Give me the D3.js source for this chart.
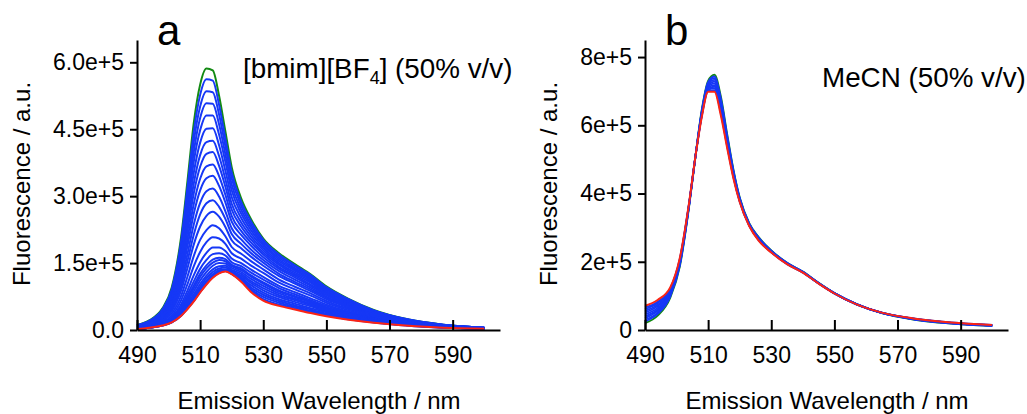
<!DOCTYPE html>
<html>
<head>
<meta charset="utf-8">
<script src="https://cdn.jsdelivr.net/npm/d3@7"></script>
<style>
  body { margin: 0; background: #fff; }
  svg { display: block; font-family: "Liberation Sans", Arial, Helvetica, sans-serif; }
</style>
</head>
<body>
<script>
// emission wavelengths (nm) shared by every spectrum
const wavelengths = [490, 494, 498, 501, 504, 506, 508, 510, 512, 514, 516, 518, 520, 523, 526, 530, 535, 540, 545, 550, 557, 565, 575, 587, 600];

// panel a, fluorescence in units of 1e5
const bmimGreen = [0.11, 0.22, 0.48, 0.95, 2.10, 3.35, 4.65, 5.50, 5.86, 5.82, 5.25, 4.45, 3.65, 2.95, 2.50, 2.05, 1.72, 1.48, 1.25, 0.98, 0.70, 0.45, 0.25, 0.12, 0.05];
const bmimRed = [0.02, 0.05, 0.10, 0.17, 0.32, 0.47, 0.64, 0.84, 1.02, 1.17, 1.27, 1.31, 1.25, 1.08, 0.86, 0.66, 0.54, 0.46, 0.38, 0.31, 0.23, 0.16, 0.10, 0.05, 0.03];
const bmimBlue = [
    [0.11, 0.21, 0.46, 0.91, 2.01, 3.21, 4.45, 5.27, 5.62, 5.59, 5.05, 4.29, 3.53, 2.87, 2.45, 2.02, 1.69, 1.45, 1.23, 0.96, 0.69, 0.44, 0.25, 0.12, 0.05],
    [0.10, 0.20, 0.44, 0.87, 1.91, 3.05, 4.23, 5.01, 5.35, 5.33, 4.83, 4.12, 3.40, 2.79, 2.38, 1.98, 1.66, 1.43, 1.20, 0.94, 0.67, 0.43, 0.24, 0.12, 0.05],
    [0.10, 0.19, 0.42, 0.82, 1.81, 2.89, 4.00, 4.75, 5.08, 5.07, 4.61, 3.94, 3.26, 2.70, 2.32, 1.93, 1.62, 1.39, 1.18, 0.92, 0.66, 0.43, 0.24, 0.11, 0.05],
    [0.09, 0.18, 0.40, 0.78, 1.71, 2.72, 3.78, 4.48, 4.81, 4.81, 4.38, 3.77, 3.13, 2.61, 2.25, 1.89, 1.58, 1.36, 1.15, 0.90, 0.65, 0.42, 0.23, 0.11, 0.05],
    [0.09, 0.17, 0.37, 0.73, 1.60, 2.55, 3.53, 4.20, 4.51, 4.52, 4.14, 3.57, 2.98, 2.51, 2.18, 1.84, 1.54, 1.33, 1.12, 0.88, 0.63, 0.41, 0.23, 0.11, 0.05],
    [0.08, 0.16, 0.35, 0.69, 1.49, 2.37, 3.29, 3.92, 4.21, 4.24, 3.90, 3.38, 2.83, 2.41, 2.11, 1.79, 1.50, 1.29, 1.09, 0.85, 0.61, 0.40, 0.22, 0.11, 0.05],
    [0.07, 0.15, 0.33, 0.64, 1.40, 2.22, 3.07, 3.66, 3.95, 3.99, 3.68, 3.21, 2.70, 2.32, 2.04, 1.74, 1.46, 1.25, 1.06, 0.83, 0.60, 0.39, 0.22, 0.10, 0.05],
    [0.07, 0.14, 0.31, 0.60, 1.29, 2.05, 2.83, 3.39, 3.67, 3.71, 3.45, 3.03, 2.56, 2.22, 1.97, 1.69, 1.41, 1.22, 1.02, 0.81, 0.58, 0.38, 0.21, 0.10, 0.05],
    [0.06, 0.13, 0.29, 0.55, 1.20, 1.89, 2.61, 3.13, 3.40, 3.46, 3.23, 2.86, 2.43, 2.13, 1.90, 1.63, 1.37, 1.18, 0.99, 0.78, 0.56, 0.36, 0.21, 0.10, 0.04],
    [0.06, 0.12, 0.26, 0.51, 1.09, 1.71, 2.37, 2.85, 3.11, 3.17, 2.99, 2.66, 2.28, 2.03, 1.81, 1.57, 1.32, 1.13, 0.95, 0.75, 0.54, 0.35, 0.20, 0.10, 0.04],
    [0.05, 0.11, 0.24, 0.46, 0.99, 1.55, 2.14, 2.59, 2.84, 2.91, 2.76, 2.49, 2.15, 1.93, 1.73, 1.51, 1.26, 1.08, 0.91, 0.72, 0.52, 0.34, 0.19, 0.09, 0.04],
    [0.05, 0.10, 0.22, 0.42, 0.89, 1.39, 1.92, 2.32, 2.56, 2.65, 2.54, 2.31, 2.01, 1.83, 1.65, 1.44, 1.21, 1.04, 0.87, 0.69, 0.50, 0.32, 0.19, 0.09, 0.04],
    [0.04, 0.09, 0.20, 0.37, 0.77, 1.20, 1.66, 2.02, 2.24, 2.35, 2.28, 2.10, 1.86, 1.71, 1.55, 1.36, 1.13, 0.97, 0.82, 0.65, 0.47, 0.31, 0.18, 0.09, 0.04],
    [0.04, 0.08, 0.17, 0.32, 0.67, 1.03, 1.43, 1.75, 1.97, 2.08, 2.05, 1.93, 1.72, 1.60, 1.45, 1.28, 1.06, 0.91, 0.77, 0.61, 0.44, 0.29, 0.17, 0.08, 0.04],
    [0.03, 0.08, 0.16, 0.28, 0.58, 0.89, 1.23, 1.52, 1.73, 1.85, 1.85, 1.77, 1.60, 1.50, 1.36, 1.19, 0.99, 0.85, 0.71, 0.57, 0.41, 0.27, 0.16, 0.08, 0.04],
    [0.03, 0.07, 0.14, 0.26, 0.52, 0.80, 1.09, 1.37, 1.57, 1.70, 1.72, 1.67, 1.52, 1.43, 1.29, 1.13, 0.94, 0.80, 0.67, 0.54, 0.39, 0.26, 0.15, 0.07, 0.04],
    [0.03, 0.07, 0.13, 0.24, 0.48, 0.73, 1.00, 1.26, 1.45, 1.58, 1.62, 1.59, 1.46, 1.38, 1.23, 1.07, 0.89, 0.76, 0.64, 0.51, 0.37, 0.25, 0.14, 0.07, 0.04],
    [0.03, 0.06, 0.13, 0.23, 0.45, 0.68, 0.94, 1.19, 1.38, 1.51, 1.57, 1.54, 1.43, 1.34, 1.20, 1.04, 0.86, 0.74, 0.62, 0.49, 0.36, 0.24, 0.14, 0.07, 0.04],
    [0.03, 0.06, 0.12, 0.21, 0.42, 0.63, 0.87, 1.11, 1.30, 1.44, 1.50, 1.49, 1.39, 1.30, 1.15, 0.99, 0.82, 0.70, 0.59, 0.47, 0.34, 0.23, 0.14, 0.07, 0.03],
    [0.02, 0.06, 0.12, 0.20, 0.39, 0.59, 0.80, 1.03, 1.22, 1.36, 1.43, 1.44, 1.35, 1.26, 1.10, 0.94, 0.78, 0.67, 0.56, 0.45, 0.33, 0.22, 0.13, 0.06, 0.03],
    [0.02, 0.05, 0.11, 0.19, 0.37, 0.55, 0.75, 0.97, 1.16, 1.30, 1.38, 1.40, 1.32, 1.22, 1.06, 0.89, 0.74, 0.63, 0.53, 0.42, 0.31, 0.21, 0.13, 0.06, 0.03],
    [0.02, 0.05, 0.11, 0.18, 0.35, 0.52, 0.71, 0.92, 1.10, 1.25, 1.34, 1.36, 1.29, 1.18, 1.01, 0.84, 0.69, 0.59, 0.49, 0.40, 0.29, 0.20, 0.12, 0.06, 0.03],
    [0.02, 0.05, 0.10, 0.18, 0.34, 0.50, 0.68, 0.89, 1.07, 1.22, 1.31, 1.34, 1.27, 1.15, 0.96, 0.79, 0.65, 0.55, 0.46, 0.37, 0.27, 0.19, 0.11, 0.06, 0.03],
    [0.02, 0.05, 0.10, 0.17, 0.33, 0.49, 0.66, 0.87, 1.05, 1.20, 1.29, 1.33, 1.26, 1.12, 0.92, 0.74, 0.61, 0.52, 0.43, 0.35, 0.26, 0.18, 0.11, 0.05, 0.03],
    [0.02, 0.05, 0.10, 0.17, 0.32, 0.48, 0.65, 0.85, 1.03, 1.18, 1.28, 1.32, 1.26, 1.10, 0.89, 0.69, 0.57, 0.49, 0.40, 0.33, 0.24, 0.17, 0.10, 0.05, 0.03]];

// panel b, fluorescence in units of 1e5
const mecnGreen = [0.20, 0.42, 0.95, 1.85, 3.65, 5.10, 6.45, 7.30, 7.48, 6.85, 5.75, 4.70, 3.88, 3.13, 2.72, 2.33, 1.97, 1.71, 1.38, 1.08, 0.76, 0.50, 0.31, 0.19, 0.12];
const mecnRed = [0.71, 0.88, 1.25, 2.10, 3.75, 5.10, 6.25, 6.98, 6.98, 6.30, 5.35, 4.45, 3.75, 3.05, 2.62, 2.27, 1.93, 1.68, 1.36, 1.07, 0.75, 0.51, 0.34, 0.22, 0.15];
const mecnBlue = [
    [0.25, 0.47, 0.98, 1.88, 3.66, 5.10, 6.43, 7.27, 7.43, 6.80, 5.71, 4.68, 3.87, 3.12, 2.71, 2.32, 1.97, 1.71, 1.38, 1.08, 0.76, 0.50, 0.31, 0.19, 0.12],
    [0.30, 0.51, 1.01, 1.90, 3.67, 5.10, 6.41, 7.24, 7.38, 6.74, 5.67, 4.65, 3.85, 3.11, 2.70, 2.32, 1.96, 1.70, 1.38, 1.08, 0.76, 0.50, 0.32, 0.20, 0.13],
    [0.35, 0.56, 1.04, 1.93, 3.68, 5.10, 6.39, 7.20, 7.33, 6.69, 5.63, 4.63, 3.84, 3.11, 2.69, 2.31, 1.96, 1.70, 1.37, 1.08, 0.76, 0.50, 0.32, 0.20, 0.13],
    [0.40, 0.60, 1.07, 1.95, 3.69, 5.10, 6.37, 7.17, 7.28, 6.63, 5.59, 4.60, 3.83, 3.10, 2.68, 2.31, 1.95, 1.70, 1.37, 1.08, 0.76, 0.50, 0.32, 0.20, 0.13],
    [0.46, 0.65, 1.10, 1.98, 3.70, 5.10, 6.35, 7.14, 7.23, 6.58, 5.55, 4.58, 3.82, 3.09, 2.67, 2.30, 1.95, 1.70, 1.37, 1.08, 0.76, 0.50, 0.32, 0.20, 0.13],
    [0.51, 0.70, 1.13, 2.00, 3.71, 5.10, 6.33, 7.11, 7.18, 6.52, 5.51, 4.55, 3.80, 3.08, 2.66, 2.29, 1.95, 1.69, 1.37, 1.07, 0.75, 0.50, 0.33, 0.21, 0.14],
    [0.56, 0.74, 1.16, 2.03, 3.72, 5.10, 6.31, 7.08, 7.13, 6.47, 5.47, 4.53, 3.79, 3.07, 2.65, 2.29, 1.94, 1.69, 1.37, 1.07, 0.75, 0.51, 0.33, 0.21, 0.14],
    [0.61, 0.79, 1.19, 2.05, 3.73, 5.10, 6.29, 7.04, 7.08, 6.41, 5.43, 4.50, 3.78, 3.07, 2.64, 2.28, 1.94, 1.69, 1.36, 1.07, 0.75, 0.51, 0.33, 0.21, 0.14],
    [0.66, 0.83, 1.22, 2.08, 3.74, 5.10, 6.27, 7.01, 7.03, 6.36, 5.39, 4.48, 3.76, 3.06, 2.63, 2.28, 1.93, 1.68, 1.36, 1.07, 0.75, 0.51, 0.34, 0.22, 0.15]];

const xTicks = [490, 510, 530, 550, 570, 590];
const bmimYTicks = [0, 1.5, 3.0, 4.5, 6.0];
const bmimYLabels = ["0.0", "1.5e+5", "3.0e+5", "4.5e+5", "6.0e+5"];
const mecnYTicks = [0, 2, 4, 6, 8];
const mecnYLabels = ["0", "2e+5", "4e+5", "6e+5", "8e+5"];

const BLUE = "#1638f6", GREEN = "#138a13", RED = "#fb2414";

const svg = d3.select("body").append("svg")
    .attr("width", 1027)
    .attr("height", 414);

function drawPanel(opt) {
    const x = d3.scaleLinear().domain([490, 605]).range([opt.left, opt.left + 363]);
    const y = d3.scaleLinear().domain([0, opt.yMax]).range([330, 40]);

    const line = d3.line()
        .x((d, i) => x(wavelengths[i]))
        .y(d => y(d))
        .curve(d3.curveMonotoneX);

    const g = svg.append("g");

    g.append("path").datum(opt.green)
        .attr("d", line).attr("fill", "none")
        .attr("stroke", GREEN).attr("stroke-width", 2);

    g.selectAll("path.blue")
        .data(opt.blue)
        .enter().append("path")
            .attr("class", "blue")
            .attr("d", line)
            .attr("fill", "none")
            .attr("stroke", BLUE)
            .attr("stroke-width", opt.blueWidth);

    g.append("path").datum(opt.red)
        .attr("d", line).attr("fill", "none")
        .attr("stroke", RED).attr("stroke-width", 2);

    const xAxis = g.append("g")
        .attr("transform", "translate(0,330)")
        .call(d3.axisBottom(x).tickValues(xTicks).tickSizeInner(-10).tickSizeOuter(0).tickPadding(17));

    const yAxis = g.append("g")
        .attr("transform", "translate(" + opt.left + ",0)")
        .call(d3.axisLeft(y).tickValues(opt.yTicks)
            .tickFormat((d, i) => opt.yLabels[i])
            .tickSize(7).tickSizeOuter(0).tickPadding(6));

    [xAxis, yAxis].forEach(a => {
        a.selectAll("path, line").attr("stroke", "#000").attr("stroke-width", 2);
        a.selectAll("text").attr("fill", "#000").style("font-size", "23px").attr("font-family", null);
    });

    g.append("text")
        .attr("x", opt.left + 182).attr("y", 409)
        .attr("text-anchor", "middle")
        .style("font-size", "24px")
        .text("Emission Wavelength / nm");

    g.append("text")
        .attr("transform", "translate(" + opt.titleX + ",184) rotate(-90)")
        .attr("text-anchor", "middle")
        .style("font-size", "24px")
        .text("Fluorescence / a.u.");

    g.append("text")
        .attr("x", opt.left + 20).attr("y", 45)
        .style("font-size", "42px")
        .text(opt.letter);

    return g; }

const ga = drawPanel({
    left: 137, yMax: 6.5, letter: "a", titleX: 30,
    green: bmimGreen, red: bmimRed, blue: bmimBlue, blueWidth: 2,
    yTicks: bmimYTicks, yLabels: bmimYLabels });

const noteA = ga.append("text")
    .attr("x", 243).attr("y", 78)
    .style("font-size", "27.8px");
noteA.append("tspan").text("[bmim][BF");
noteA.append("tspan").attr("dy", 6).style("font-size", "18px").text("4");
noteA.append("tspan").attr("dy", -6).text("] (50% v/v)");

const gb = drawPanel({
    left: 645, yMax: 8.5, letter: "b", titleX: 557,
    green: mecnGreen, red: mecnRed, blue: mecnBlue, blueWidth: 1.8,
    yTicks: mecnYTicks, yLabels: mecnYLabels });

gb.append("text")
    .attr("x", 822).attr("y", 87)
    .style("font-size", "27.8px")
    .text("MeCN (50% v/v)");
</script>
</body>
</html>
